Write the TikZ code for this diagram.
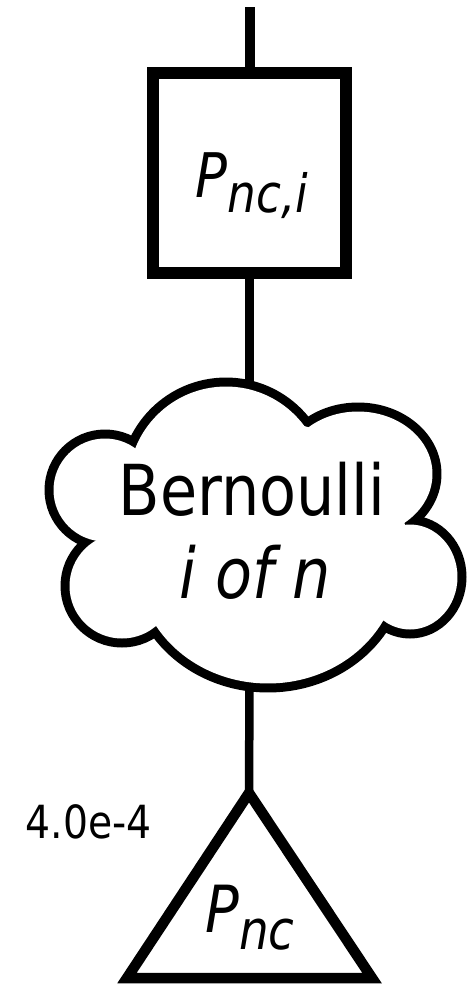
\documentclass[tikz,border=0pt]{standalone}
\usepackage{fontspec}
\setmainfont{DejaVu Sans}[FakeStretch=0.86]
\begin{document}
\begin{tikzpicture}[x=0.02cm,y=-0.02cm,
                lnk/.style={line width=0.17cm},
                gatebox/.style={draw,line width=0.24cm,minimum width=3.86cm,minimum height=4cm,inner sep=0pt},
                lobe/.style={line width=0.36cm}]
                \useasboundingbox (0,0) rectangle (471,985);
                % gate
                \node[gatebox] (gate) at (249.5,173) {};
                \node[anchor=base] (gatelbl) at (252,197)
                    {\fontsize{35}{35}\selectfont\itshape P\raisebox{-9pt}{\fontsize{30}{30}\selectfont nc,i}};
                % cloud from lobes: thick outline first, then white fill
                \foreach \cx/\cy/\rx/\ry in {226/484/1.95cm/1.95cm, 105/490/1.03cm/1.03cm, 122/586/1.05cm/1.05cm,
                        268/565/2.61cm/2.37cm, 410/577/0.95cm/1.05cm, 358/474/1.49cm/1.25cm}
                    \draw[lobe] (\cx,\cy) ellipse [x radius=\rx, y radius=\ry];
                \foreach \cx/\cy/\rx/\ry in {226/484/1.95cm/1.95cm, 105/490/1.03cm/1.03cm, 122/586/1.05cm/1.05cm,
                        268/565/2.61cm/2.37cm, 410/577/0.95cm/1.05cm, 358/474/1.49cm/1.25cm, 255/530/3cm/2.2cm}
                    \fill[white] (\cx,\cy) ellipse [x radius=\rx, y radius=\ry];
                \node[anchor=base] (bern) at (252,515) {\fontsize{40}{40}\selectfont Bernoulli};
                \node[anchor=base] (iofn) at (255,598) {\fontsize{40}{40}\selectfont\itshape i of n};
                \coordinate (cloudtop) at (249.5,384);
                \coordinate (cloudbot) at (249.5,687);
                % basic event
                \coordinate (apex) at (249,793);
                \draw[line width=0.21cm] (apex) -- (127,978) -- (372,978) -- cycle;
                \node[anchor=base] (evlbl) at (250,932)
                    {\fontsize{37}{37}\selectfont\itshape P\raisebox{-10pt}{\fontsize{31}{31}\selectfont nc}};
                \node[anchor=base] (prob) at (88.5,838) {\fontsize{26}{26}\selectfont 4.0e-4};
                % connectors
                \coordinate (topend) at (249.5,7);
                \draw[lnk,line width=0.2cm] (topend) -- (gate.north);
                \draw[lnk] (gate.south) -- (cloudtop);
                \draw[lnk] (cloudbot) -- (apex);
            \end{tikzpicture}
\end{document}
